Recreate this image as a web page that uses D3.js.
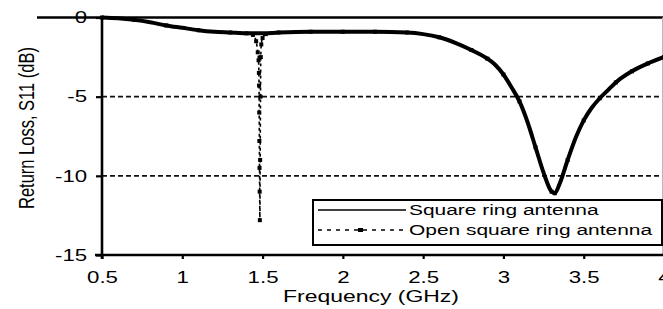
<!DOCTYPE html>
<html>
<head>
<meta charset="utf-8">
<script src="https://cdn.jsdelivr.net/npm/d3@7"></script>
<style>
  html, body { margin: 0; padding: 0; background: #fff; }
  svg { display: block; font-family: "Liberation Sans", Arial, sans-serif; }
</style>
</head>
<body>
<svg id="chart" width="663" height="309"></svg>
<script>
// Square ring antenna (solid)
const freqSquare = [0.5, 0.6, 0.7, 0.8, 0.9, 1.0, 1.1, 1.2, 1.3, 1.4, 1.5, 1.6, 1.8, 2.0, 2.2, 2.4, 2.5,
  2.6, 2.7, 2.8, 2.9, 2.95, 3.0, 3.05, 3.1, 3.15, 3.2, 3.25, 3.3, 3.32, 3.35, 3.4, 3.45, 3.5, 3.55, 3.6,
  3.65, 3.7, 3.8, 3.9, 4.0];
const s11Square = [0, -0.05, -0.15, -0.3, -0.5, -0.65, -0.8, -0.9, -0.95, -1.0, -1.0, -0.95, -0.9, -0.9, -0.9, -0.95, -1.05,
  -1.25, -1.6, -2.05, -2.6, -3.0, -3.6, -4.4, -5.3, -6.6, -8.2, -9.8, -11.0, -11.1, -10.5, -9.0, -7.6, -6.5, -5.7, -5.1,
  -4.6, -4.1, -3.4, -2.9, -2.5];

// Open square ring antenna (dashed with markers)
const freqOpen = [0.5, 0.7, 0.9, 1.1, 1.3, 1.4, 1.44, 1.46, 1.47, 1.475, 1.477, 1.478, 1.479, 1.48, 1.481, 1.482, 1.483,
  1.485, 1.487, 1.489, 1.492, 1.5, 1.52, 1.6, 1.8, 2.0, 2.2, 2.4, 2.6, 2.8, 2.9, 3.0, 3.1, 3.2, 3.3, 3.32, 3.4, 3.5,
  3.6, 3.7, 3.8, 3.9, 4.0];
const s11Open = [0, -0.15, -0.5, -0.8, -0.95, -1.0, -1.1, -1.5, -2.2, -2.7, -3.5, -4.3, -6.0, -7.8, -9.5, -11.0, -12.8,
  -9.0, -5.0, -2.5, -1.7, -1.3, -1.05, -0.95, -0.9, -0.9, -0.9, -0.95, -1.25, -2.05, -2.6, -3.6, -5.3, -8.2, -11.0, -11.1, -9.0, -6.5,
  -5.1, -4.1, -3.4, -2.9, -2.5];

const xTicks = [0.5, 1, 1.5, 2, 2.5, 3, 3.5, 4];
const yTicks = [0, -5, -10, -15];
const gridValues = [-5, -10];
const legendLabels = ["Square ring antenna", "Open square ring antenna"];

const SX = 1.35; // the source picture is stretched horizontally

const svg = d3.select("#chart");
const x = d3.scaleLinear().domain([0.5, 4]).range([102, 664]);
const y = d3.scaleLinear().domain([-15, 0]).range([255, 17.5]);

// dashed grid lines
svg.selectAll("line.grid")
  .data(gridValues)
  .enter()
  .append("line")
  .attr("class", "grid")
  .attr("x1", x(0.5))
  .attr("x2", 663)
  .attr("y1", d => y(d))
  .attr("y2", d => y(d))
  .attr("stroke", "#111")
  .attr("stroke-width", 1.6)
  .attr("stroke-dasharray", "5,3");

// top zero line, runs past the axis to the left
svg.append("line")
  .attr("x1", 37).attr("x2", 663)
  .attr("y1", y(0)).attr("y2", y(0))
  .attr("stroke", "#000").attr("stroke-width", 2.6);

// faint right frame
svg.append("line")
  .attr("x1", 662.5).attr("x2", 662.5)
  .attr("y1", y(0)).attr("y2", 255)
  .attr("stroke", "#bbb").attr("stroke-width", 1);

// axes
const xAxis = svg.append("g")
  .attr("transform", `translate(0,${y(-15)})`)
  .call(d3.axisBottom(x).tickValues(xTicks).tickSize(4).tickSizeOuter(0).tickFormat(d => String(d)));
xAxis.select(".domain").attr("stroke-width", 2.6).attr("d", `M95,0H663`);
xAxis.selectAll(".tick line").attr("stroke-width", 2.2);
xAxis.selectAll(".tick text")
  .attr("y", 16)
  .attr("transform", `scale(${SX},1)`)
  .style("font-size", "16.5px")
  .attr("fill", "#000");

const yAxis = svg.append("g")
  .attr("transform", `translate(${x(0.5)},0)`)
  .call(d3.axisLeft(y).tickValues(yTicks).tickSize(6).tickSizeOuter(0).tickFormat(d => String(d)));
yAxis.select(".domain").attr("stroke-width", 2.6).attr("d", `M0,${y(0)}V259`);
yAxis.selectAll(".tick line").attr("stroke-width", 2.2);
yAxis.selectAll(".tick text")
  .attr("x", -11)
  .attr("transform", `scale(${SX},1)`)
  .style("font-size", "16.5px")
  .attr("fill", "#000");

// axis titles
svg.append("text")
  .attr("transform", `translate(371,302) scale(${SX},1)`)
  .attr("text-anchor", "middle")
  .style("font-size", "17px")
  .text("Frequency (GHz)");

svg.append("text")
  .attr("transform", `translate(34,128) scale(${SX},1) rotate(-90)`)
  .attr("text-anchor", "middle")
  .style("font-size", "16.5px")
  .text("Return Loss, S11 (dB)");

// series
const lineGen = d3.line()
  .x(d => x(d[0]))
  .y(d => y(d[1]))
  .curve(d3.curveMonotoneX);

const squarePts = freqSquare.map((f, i) => [f, s11Square[i]]);
const openPts = freqOpen.map((f, i) => [f, s11Open[i]]);

svg.append("path")
  .datum(squarePts)
  .attr("d", lineGen)
  .attr("fill", "none")
  .attr("stroke", "#000")
  .attr("stroke-width", 4)
  .attr("stroke-linejoin", "round");

svg.append("path")
  .datum(openPts)
  .attr("d", lineGen)
  .attr("fill", "none")
  .attr("stroke", "#000")
  .attr("stroke-width", 1.6)
  .attr("stroke-dasharray", "3,3");

svg.selectAll("rect.mk")
  .data(openPts)
  .enter()
  .append("rect")
  .attr("class", "mk")
  .attr("x", d => x(d[0]) - 2)
  .attr("y", d => y(d[1]) - 2)
  .attr("width", 4)
  .attr("height", 4)
  .attr("fill", "#000");

// legend
const legend = svg.append("g");
legend.append("rect")
  .attr("x", 313).attr("y", 200)
  .attr("width", 349).attr("height", 45)
  .attr("fill", "#fff")
  .attr("stroke", "#000")
  .attr("stroke-width", 2);

legend.append("line")
  .attr("x1", 318).attr("x2", 406)
  .attr("y1", 210).attr("y2", 210)
  .attr("stroke", "#000").attr("stroke-width", 1.5);

legend.append("line")
  .attr("x1", 318).attr("x2", 406)
  .attr("y1", 230).attr("y2", 230)
  .attr("stroke", "#000").attr("stroke-width", 1.5)
  .attr("stroke-dasharray", "4,5");

legend.append("rect")
  .attr("x", 358).attr("y", 228)
  .attr("width", 5).attr("height", 4)
  .attr("fill", "#000");

legend.selectAll("text.lg")
  .data(legendLabels)
  .enter()
  .append("text")
  .attr("class", "lg")
  .attr("transform", (d, i) => `translate(409,${215 + i * 20}) scale(${SX},1)`)
  .style("font-size", "15.5px")
  .text(d => d);
</script>
</body>
</html>
